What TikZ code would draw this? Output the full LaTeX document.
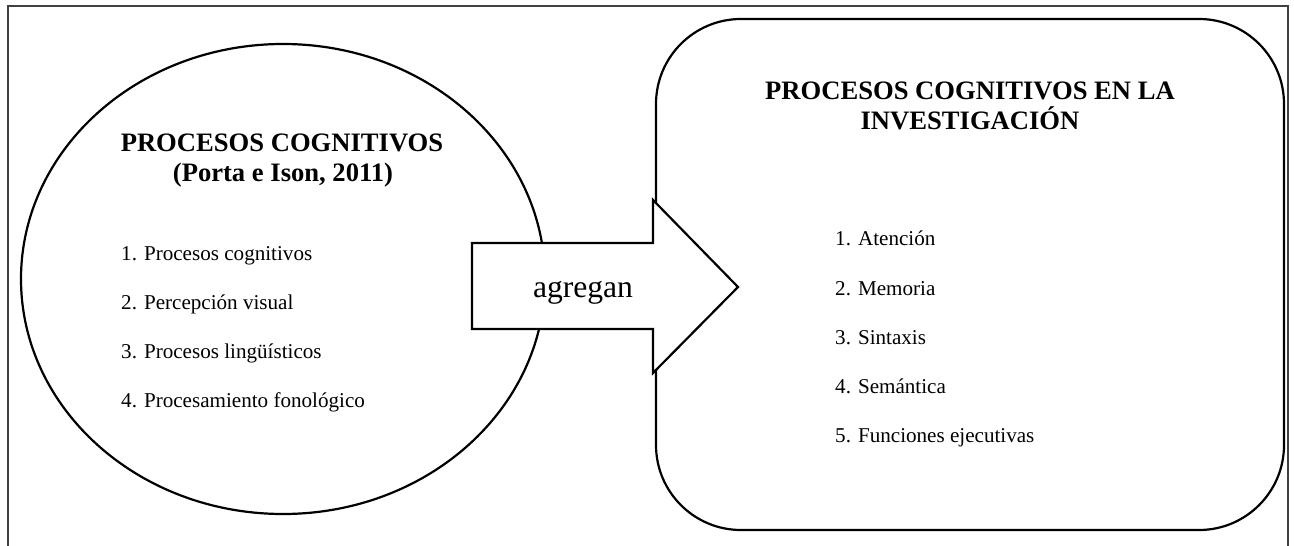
\documentclass[tikz,border=0pt]{standalone}
\usepackage{fontspec}
\setmainfont{Liberation Serif}
\usetikzlibrary{shapes.geometric}
\tikzset{
  shapeline/.style={draw=black, line width=2.2pt, fill=white},
  titletext/.style={inner sep=0pt, font=\fontsize{26.6}{30}\selectfont\bfseries, anchor=base},
  itemtext/.style={inner sep=0pt, font=\fontsize{21.1}{24}\selectfont, anchor=base west},
}
\begin{document}
\begin{tikzpicture}[x=1pt,y=-1pt]
\useasboundingbox (0,0) rectangle (1294,546);
% outer frame (open at the bottom)
\draw[black!75, line width=1.1pt] (8,546) -- (8,6) -- (1288,6) -- (1288,546);
% left ellipse
\node[shapeline, ellipse, minimum width=524pt, minimum height=470pt, inner sep=0pt] (circ) at (283,279) {};
% right rounded box
\node[shapeline, rounded corners=85pt, minimum width=628pt, minimum height=511pt, inner sep=0pt] (box) at (970,274.5) {};
% block arrow
\coordinate (a1) at (472,243);
\coordinate (a2) at (653,243);
\coordinate (a3) at (653,200);
\coordinate (tip) at (738,287);
\coordinate (a5) at (653,373);
\coordinate (a6) at (653,329);
\coordinate (a7) at (472,329);
\draw[shapeline, line join=miter] (a1) -- (a2) -- (a3) -- (tip) -- (a5) -- (a6) -- (a7) -- cycle;
\node[inner sep=0pt, anchor=base, font=\fontsize{31.6}{36}\selectfont] (lbl) at (583,297) {agregan};
% left texts
\node[titletext] (lt1) at (282,151) {PROCESOS COGNITIVOS};
\node[titletext] (lt2) at (283,181) {(Porta e Ison, 2011)};
\node[itemtext] (l1) at (121,260) {1. Procesos cognitivos};
\node[itemtext] (l2) at (121,309) {2. Percepción visual};
\node[itemtext] (l3) at (121,358) {3. Procesos lingüísticos};
\node[itemtext] (l4) at (121,407) {4. Procesamiento fonológico};
% right texts
\node[titletext] (rt1) at (970,99) {PROCESOS COGNITIVOS EN LA};
\node[titletext] (rt2) at (970,129) {INVESTIGACIÓN};
\node[itemtext] (r1) at (835,245) {1. Atención};
\node[itemtext] (r2) at (835,295) {2. Memoria};
\node[itemtext] (r3) at (835,344) {3. Sintaxis};
\node[itemtext] (r4) at (835,393) {4. Semántica};
\node[itemtext] (r5) at (835,442) {5. Funciones ejecutivas};
\end{tikzpicture}
\end{document}
